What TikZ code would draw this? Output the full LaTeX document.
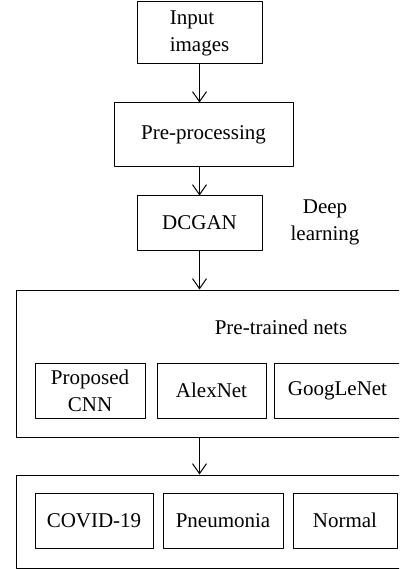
\documentclass[tikz,border=0pt]{standalone}
\usepackage{fontspec}
\setmainfont{Liberation Serif}
\usetikzlibrary{arrows.meta}

\begin{document}
\begin{tikzpicture}[line cap=round,line join=round,x=1pt,y=1pt,
		>={Straight Barb[length=10pt,width=14pt]},
		box/.style={draw,line width=1pt,inner sep=0pt,align=center,
			font=\fontsize{21}{27}\selectfont},
		lbl/.style={align=center,font=\fontsize{21}{27}\selectfont},
		flow/.style={->,line width=1pt}]
		\clip (0,0) rectangle (399,-569);
		\useasboundingbox (0,0) rectangle (399,-569);
		% main chain
		\node[box,minimum width=125,minimum height=62] (input) at (199.5,-33) {\begin{tabular}{@{}l@{}}Input\\images\end{tabular}};
		\node[box,minimum width=179,minimum height=64] (pre) at (203.5,-135) {Pre-processing};
		\node[box,minimum width=125,minimum height=54] (dcgan) at (199.5,-223) {DCGAN};
		\node[lbl] (deep) at (325,-222) {Deep\\learning};
		% pre-trained nets
		\node[box,minimum width=414,minimum height=147] (nets) at (223,-363.5) {};
		\node[lbl] (netslbl) at (281,-327) {Pre-trained nets};
		\node[box,minimum width=110,minimum height=55] (cnn) at (90,-390.5) {Proposed\\CNN};
		\node[box,minimum width=109,minimum height=55] (alex) at (211.5,-390.5) {AlexNet};
		\node[box,minimum width=127,minimum height=55] (goog) at (337.5,-390.5) {GoogLeNet};
		% classes
		\node[box,minimum width=414,minimum height=93] (classes) at (223,-521.5) {};
		\node[box,minimum width=118,minimum height=55] (covid) at (94,-520.5) {COVID-19};
		\node[box,minimum width=120,minimum height=55] (pneu) at (223,-520.5) {Pneumonia};
		\node[box,minimum width=104,minimum height=55] (normal) at (345,-520.5) {Normal};
		% arrows
		\draw[flow] (input) -- (input |- pre.north);
		\draw[flow] (input |- pre.south) -- (dcgan);
		\draw[flow] (dcgan) -- (dcgan |- nets.north);
		\draw[flow] (dcgan |- nets.south) -- (dcgan |- classes.north);
	\end{tikzpicture}
\end{document}
